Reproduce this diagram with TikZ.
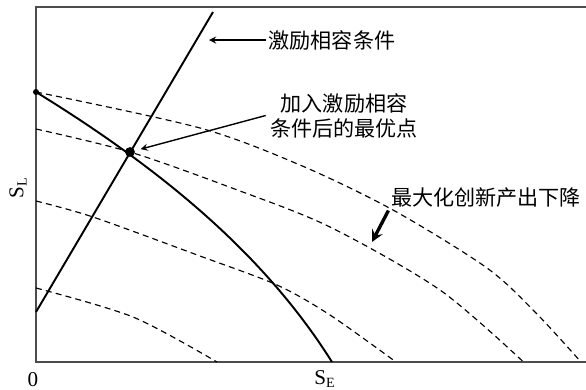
\documentclass[tikz,border=0pt]{standalone}
\usepackage{fontspec}
\setmainfont{Liberation Serif}
\newfontfamily\cjk{Noto Sans CJK SC}

\begin{document}
\begin{tikzpicture}[>=stealth, line width=1.1pt, font=\fontsize{12}{14.2}\selectfont,
  frame/.style={line width=0.6pt, black!70},
  level/.style={dashed, line width=0.65pt, dash pattern=on 3.4pt off 2.4pt},
  lab/.style={font=\cjk\fontsize{12}{14.2}\selectfont, inner sep=1pt}]
\useasboundingbox (-0.72,-0.54) rectangle (11.0,7.24);

% axes
\draw[frame] (11.0,7.1) -- (0,7.1) -- (0,0) -- (11.0,0);
\node (o) at (-0.06,-0.36) {0};
\node (se) at (5.78,-0.34) {S$_{\mathrm{E}}$};
\node[rotate=90] (sl) at (-0.36,3.48) {S$_{\mathrm{L}}$};

% dashed level curves
\draw[level] plot[smooth] coordinates {(0,5.4) (3.28,4.68) (5.28,3.94) (7.14,3.04) (9.02,1.88) (10.0,0.98) (10.9,0)};
\draw[level] plot[smooth] coordinates {(0,4.66) (1.88,4.2) (4.0,3.45) (5.88,2.7) (8.08,1.44) (9.75,0)};
\draw[level] plot[smooth] coordinates {(0,3.22) (1.14,2.9) (3.28,2.12) (4.82,1.54) (5.88,0.94) (7.2,0)};
\draw[level] plot[smooth] coordinates {(0,1.48) (1.94,0.9) (3.62,0)};

% incentive line and frontier
\coordinate (icb) at (0,1.0);
\coordinate (ict) at (3.54,7.0);
\draw (icb) -- (ict);
\coordinate (top) at (0,5.4);
\coordinate (opt) at (1.88,4.2);
\draw (top) .. controls (2.6,3.8) and (4.6,2.1) .. (5.92,0);

\fill (top) circle(1.7pt);
\fill (opt) circle(2.8pt);

% labels
\node[lab, right] (iclab) at (4.6,6.44) {激励相容条件};
\coordinate (ictip) at (3.46,6.44);
\draw[->, line width=0.8pt] (iclab.west) -- (ictip);

\node[lab, align=center, inner sep=2pt] (optlab) at (6.16,4.93) {加入激励相容\\条件后的最优点};
\draw[->, line width=0.8pt, shorten >=0.22cm] (optlab.west) -- (opt);

\node[lab] (droplab) at (9.0,3.28) {最大化创新产出下降};
\coordinate (droptip) at (6.72,2.4);
\draw[->, line width=1.9pt] (droplab.south west) -- (droptip);

\end{tikzpicture}
\end{document}
